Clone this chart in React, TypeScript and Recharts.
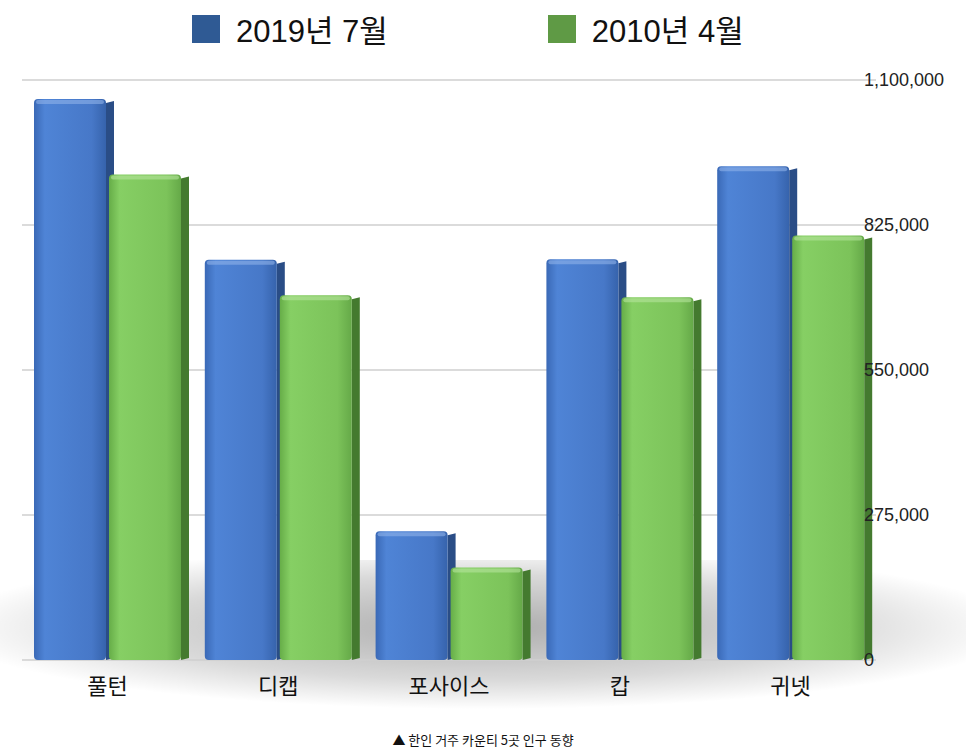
import { BarChart, Bar, XAxis, YAxis, CartesianGrid } from 'recharts';

const counties = ['풀턴', '디캡', '포사이스', '캅', '귀넷'];
const pop2019 = [1063937, 759297, 244252, 760141, 936250];
const pop2010 = [920581, 691893, 175511, 688078, 805321];
const yTicks = [0, 275000, 550000, 825000, 1100000];

const seriesNames = ['2019년 7월', '2010년 4월'];

const data = counties.map((name, i) => ({
  name,
  y2019: pop2019[i],
  y2010: pop2010[i],
}));

const FONT = '"Liberation Sans", Arial, "Noto Sans CJK KR", sans-serif';

// 3D-ish bar: front face + dark side + light top
function Bar3D(props: any) {
  const { x, y, width, height, gradId, side, top } = props;
  if (!height || height <= 0) return null;
  const d = 8;
  return (
    <g>
      <polygon
        points={`${x + width},${y + 4} ${x + width + d},${y + 2} ${x + width + d},${y + height - 2} ${x + width},${y + height}`}
        fill={side}
      />
      <rect x={x} y={y} width={width} height={height} rx={4} ry={4} fill={`url(#${gradId})`} />
      <rect x={x + 2} y={y + 1} width={width - 4} height={4} rx={2} fill={top} opacity={0.6} />
    </g>
  );
}

function RightTick(props: any) {
  const { y, payload } = props;
  return (
    <text x={864} y={y} dy={6} textAnchor="start" fontSize={18} fill="#222" fontFamily={FONT}>
      {payload.value.toLocaleString('en-US')}
    </text>
  );
}

function CatTick(props: any) {
  const { x, y, payload } = props;
  return (
    <text x={x} y={y} dy={26} textAnchor="middle" fontSize={22} fill="#111" fontFamily={'"Noto Sans CJK KR", sans-serif'}>
      {payload.value}
    </text>
  );
}

export default function App() {
  return (
    <div style={{ position: 'absolute', left: 0, top: 0, width: 966, height: 750, background: '#fff', overflow: 'hidden' }}>
      {/* floor shadow */}
      <div
        style={{
          position: 'absolute',
          left: -60,
          top: 560,
          width: 1086,
          height: 150,
          background: 'radial-gradient(ellipse at 50% 45%, rgba(0,0,0,0.32) 0%, rgba(0,0,0,0.15) 45%, rgba(0,0,0,0) 70%)',
        }}
      />
      {/* legend */}
      <div style={{ position: 'absolute', top: 6, left: 192, display: 'flex', alignItems: 'center', fontFamily: FONT, fontSize: 31, color: '#111' }}>
        <span style={{ width: 28, height: 28, background: '#2f5a94', display: 'inline-block', marginRight: 16 }} />
        <span>{seriesNames[0]}</span>
        <span style={{ width: 28, height: 28, background: '#5f9a45', display: 'inline-block', marginLeft: 160, marginRight: 16 }} />
        <span>{seriesNames[1]}</span>
      </div>
      <div style={{ position: 'absolute', left: 0, top: 0 }}>
        <BarChart
          width={966}
          height={720}
          data={data}
          margin={{ top: 80, right: 0, left: 22, bottom: 20 }}
          barSize={72}
          barGap={3}
        >
          <defs>
            <linearGradient id="gBlue" x1="0" y1="0" x2="1" y2="0">
              <stop offset="0%" stopColor="#3a69b6" />
              <stop offset="15%" stopColor="#4f84d6" />
              <stop offset="80%" stopColor="#4778c8" />
              <stop offset="100%" stopColor="#3663ac" />
            </linearGradient>
            <linearGradient id="gGreen" x1="0" y1="0" x2="1" y2="0">
              <stop offset="0%" stopColor="#66ad48" />
              <stop offset="15%" stopColor="#86cf64" />
              <stop offset="80%" stopColor="#7cc35a" />
              <stop offset="100%" stopColor="#65a948" />
            </linearGradient>
          </defs>
          <CartesianGrid horizontal vertical={false} stroke="#cfcfcf" strokeWidth={1.5} />
          <XAxis dataKey="name" axisLine={false} tickLine={false} height={40} tick={<CatTick />} interval={0} />
          <YAxis
            orientation="right"
            domain={[0, 1100000]}
            ticks={yTicks}
            width={90}
            axisLine={false}
            tickLine={false}
            tick={<RightTick />}
          />
          <Bar
            dataKey="y2019"
            name={seriesNames[0]}
            isAnimationActive={false}
            shape={(p: any) => <Bar3D {...p} gradId="gBlue" side="#2a4d86" top="#8fb3ea" />}
          />
          <Bar
            dataKey="y2010"
            name={seriesNames[1]}
            isAnimationActive={false}
            shape={(p: any) => <Bar3D {...p} gradId="gGreen" side="#447a2f" top="#b5e59c" />}
          />
        </BarChart>
      </div>
      <div
        style={{
          position: 'absolute',
          top: 731,
          left: 0,
          width: 966,
          height: 18,
          lineHeight: '18px',
          textAlign: 'center',
          fontSize: 13,
          color: '#111',
          fontFamily: '"Noto Sans CJK KR", sans-serif',
        }}
      >
        ▲ 한인 거주 카운티 5곳 인구 동향
      </div>
    </div>
  );
}
